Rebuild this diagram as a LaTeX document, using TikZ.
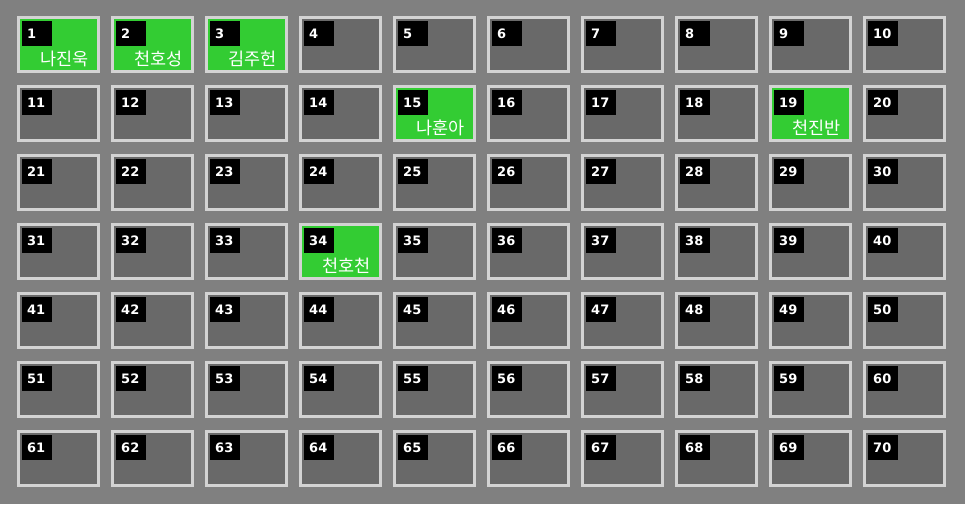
\documentclass[tikz,border=0pt]{standalone}
\usepackage{fontspec}
\setsansfont{DejaVu Sans}
\newfontfamily\krfont{Noto Sans CJK KR}
\usetikzlibrary{calc}
\definecolor{floor}{HTML}{808080}
\definecolor{seatgray}{HTML}{696969}
\definecolor{seatedge}{HTML}{D3D3D3}
\definecolor{seatgreen}{HTML}{33CC33}

\tikzset{
  cell/.style={draw=seatedge, line width=3pt, fill=seatgray, outer sep=0pt,
    minimum width=80pt, minimum height=54pt, inner sep=0pt},
  tag/.style={fill=black, text=white, anchor=north west, inner xsep=5pt, inner ysep=0pt,
    text width=20pt, align=left, minimum height=25pt,
    font=\sffamily\bfseries\fontsize{13}{13}\selectfont},
  who/.style={text=white, anchor=east, inner sep=0pt,
    font=\krfont\fontsize{17.5}{17.5}\selectfont},
  % taken seats
  cell 1/.style={fill=seatgreen}, cell 2/.style={fill=seatgreen},
  cell 3/.style={fill=seatgreen}, cell 15/.style={fill=seatgreen},
  cell 19/.style={fill=seatgreen}, cell 34/.style={fill=seatgreen}
}

\begin{document}
\begin{tikzpicture}[x=1pt, y=-1pt]
  \fill[floor] (0,0) rectangle (965,504);
  \useasboundingbox (0,0) rectangle (965,504);

  \foreach \n in {1,...,70}{
    \pgfmathtruncatemacro{\c}{mod(\n-1,10)}
    \pgfmathtruncatemacro{\r}{(\n-1)/10}
    \node[cell, cell \n/.try] (cell\n) at (58.5+94*\c, 44.5+69*\r) {};
    \node[tag] (tag\n) at ($(cell\n.north west)+(3.5,3.5)$) {\n};
  }

  \foreach \n/\name in {1/나진욱, 2/천호성, 3/김주헌, 15/나훈아, 19/천진반, 34/천호천}
    \node[who] (name\n) at ($(cell\n.east)+(-9.5,14.5)$) {\name};

\end{tikzpicture}
\end{document}
